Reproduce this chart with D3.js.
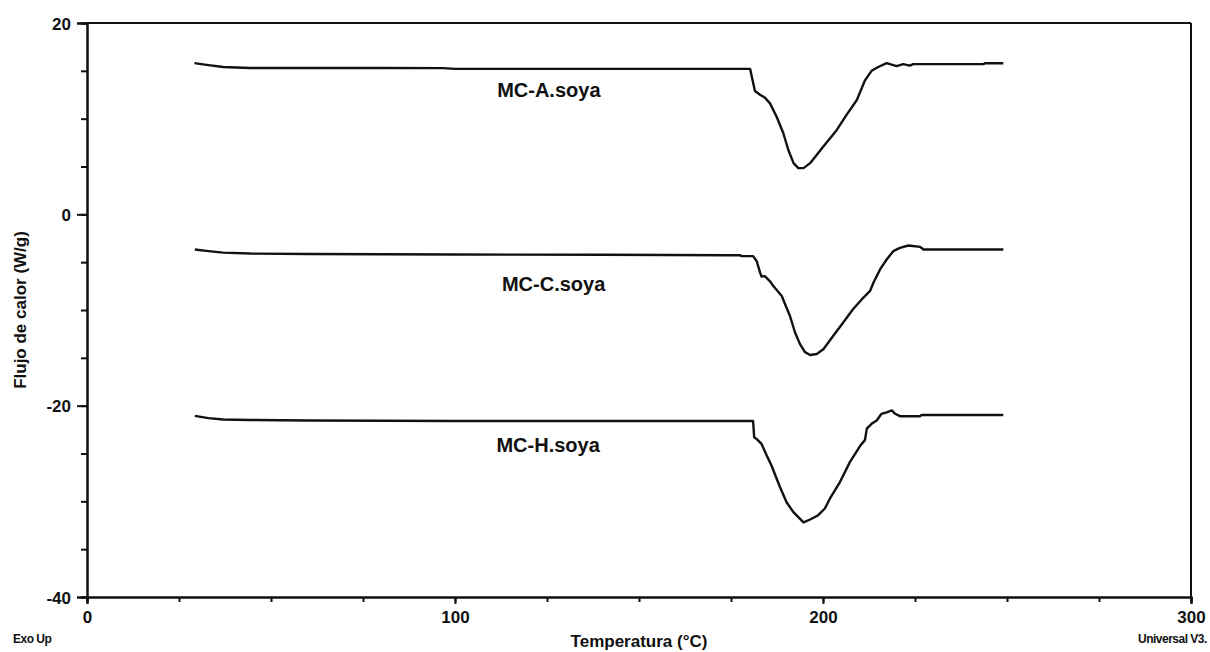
<!DOCTYPE html>
<html>
<head>
<meta charset="utf-8">
<script src="https://cdn.jsdelivr.net/npm/d3@7"></script>
<style>
  html, body { margin: 0; padding: 0; background: #fff; }
  svg { display: block; font-family: "Liberation Sans", Arial, sans-serif; }
</style>
</head>
<body>
<svg id="chart" width="1210" height="652"></svg>
<script>
// DSC thermograms: heat flow (W/g) against temperature (°C)
const tempA = [29.2, 33, 37, 44.3, 60, 80, 96.8, 100, 120, 140, 160, 175, 180.2, 181.5, 182.9, 184.2, 185.6, 187.4, 189.2, 190.6, 192, 193.3, 194.7, 196.5, 200.1, 203.7, 206.4, 209.2, 211.4, 213.2, 215, 217.3, 218.2, 220, 221.8, 223.6, 224.5, 243.6, 244, 249];
const flowA = [15.8, 15.6, 15.4, 15.3, 15.3, 15.3, 15.28, 15.2, 15.2, 15.2, 15.2, 15.2, 15.2, 12.9, 12.5, 12.2, 11.6, 10.2, 8.5, 6.7, 5.35, 4.83, 4.83, 5.35, 7.1, 8.8, 10.4, 11.95, 14.0, 15.0, 15.4, 15.8, 15.7, 15.5, 15.7, 15.55, 15.7, 15.7, 15.8, 15.8];

const tempC = [29.3, 33, 37, 44.3, 60, 100, 140, 174.7, 177.4, 177.9, 181, 182, 182.9, 183.3, 184.2, 185.6, 186.5, 188.8, 189.7, 191, 192.4, 193.75, 195.1, 196.5, 198.3, 200.1, 202.8, 205.5, 208.2, 211, 212.8, 213.7, 215.5, 217.3, 219.1, 220.9, 223.2, 226.4, 227.3, 249];
const flowC = [-3.68, -3.85, -4.0, -4.1, -4.15, -4.2, -4.22, -4.27, -4.27, -4.37, -4.37, -4.9, -6.1, -6.5, -6.46, -7.0, -7.5, -8.54, -9.4, -10.6, -12.35, -13.57, -14.4, -14.7, -14.6, -14.1, -12.7, -11.3, -9.9, -8.7, -8.0, -7.15, -5.76, -4.72, -3.85, -3.5, -3.26, -3.4, -3.68, -3.68];

const tempH = [29.3, 33, 37, 44.3, 60, 100, 140, 174.7, 181, 181.3, 182, 183.3, 184.7, 186, 188.3, 190.1, 191.9, 194.7, 196.5, 198.7, 200.5, 201.9, 204.6, 207.3, 210.1, 211.4, 211.9, 213.2, 214.6, 215.9, 217.3, 218.7, 219.6, 220.9, 226.4, 226.8, 249];
const flowH = [-21.07, -21.3, -21.45, -21.5, -21.55, -21.6, -21.6, -21.6, -21.6, -23.3, -23.5, -24.0, -25.2, -26.25, -28.5, -30.1, -31.1, -32.2, -31.9, -31.45, -30.75, -29.7, -27.98, -25.9, -24.2, -23.6, -22.4, -21.9, -21.55, -20.85, -20.7, -20.5, -20.85, -21.1, -21.1, -20.97, -20.97];

const seriesNames = ["MC-A.soya", "MC-C.soya", "MC-H.soya"];
// label anchor positions in data units (temperature, heat flow)
const labelTemp = [125.5, 126.8, 125.3];
const labelFlow = [12.3, -8.0, -24.8];

const xMajorTicks = [0, 100, 200, 300];
const xMinorTicks = d3.range(0, 301, 25);
const yMajorTicks = [-40, -20, 0, 20];
const yMinorTicks = d3.range(-40, 21, 5);

const xTitle = "Temperatura (°C)";
const yTitle = "Flujo de calor (W/g)";
const footLeft = "Exo Up";
const footRight = "Universal V3.";

const series = [
  { name: seriesNames[0], t: tempA, v: flowA },
  { name: seriesNames[1], t: tempC, v: flowC },
  { name: seriesNames[2], t: tempH, v: flowH }
];

const svg = d3.select("#chart");
const plotLeft = 87, plotRight = 1191, plotTop = 23, plotBottom = 597;

const x = d3.scaleLinear().domain([0, 300]).range([plotLeft, plotRight]);
const y = d3.scaleLinear().domain([-40, 20]).range([plotBottom, plotTop]);

const ink = "#111";
const plainNumber = d => String(d);   // ASCII hyphen for negatives

// frame: top and right edges
svg.append("line").attr("x1", plotLeft).attr("x2", plotRight).attr("y1", plotTop).attr("y2", plotTop)
  .attr("stroke", ink).attr("stroke-width", 2);
svg.append("line").attr("x1", plotRight).attr("x2", plotRight).attr("y1", plotTop).attr("y2", plotBottom)
  .attr("stroke", ink).attr("stroke-width", 2);

// y axis: minor then major ticks
const yMinor = svg.append("g").attr("transform", `translate(${plotLeft},0)`)
  .call(d3.axisLeft(y).tickValues(yMinorTicks).tickSize(6).tickFormat(""));
const yMajor = svg.append("g").attr("transform", `translate(${plotLeft},0)`)
  .call(d3.axisLeft(y).tickValues(yMajorTicks).tickSize(10).tickPadding(6).tickFormat(plainNumber));

// x axis: minor then major ticks
const xMinor = svg.append("g").attr("transform", `translate(0,${plotBottom})`)
  .call(d3.axisBottom(x).tickValues(xMinorTicks).tickSize(5).tickFormat(""));
const xMajor = svg.append("g").attr("transform", `translate(0,${plotBottom})`)
  .call(d3.axisBottom(x).tickValues(xMajorTicks).tickSize(7).tickPadding(5).tickFormat(plainNumber));

[yMinor, yMajor, xMinor, xMajor].forEach(g => {
  g.select(".domain").attr("stroke", ink).attr("stroke-width", 2);
  g.selectAll(".tick line").attr("stroke", ink).attr("stroke-width", 2);
  g.selectAll(".tick text")
    .attr("fill", ink)
    .style("font-family", "'Liberation Sans', Arial, sans-serif")
    .style("font-size", "17px")
    .style("font-weight", "bold");
});
yMajor.selectAll(".tick text").attr("dy", "0.36em");
xMajor.selectAll(".tick text").attr("dy", "0.85em");

// thermogram curves
const line = d3.line()
  .x(d => x(d[0]))
  .y(d => y(d[1]))
  .curve(d3.curveLinear);

svg.append("g").selectAll("path")
  .data(series)
  .join("path")
  .attr("d", s => line(s.t.map((t, i) => [t, s.v[i]])))
  .attr("fill", "none")
  .attr("stroke", ink)
  .attr("stroke-width", 2.4)
  .attr("stroke-linejoin", "round");

// curve labels
svg.append("g").selectAll("text")
  .data(series)
  .join("text")
  .attr("x", (s, i) => x(labelTemp[i]))
  .attr("y", (s, i) => y(labelFlow[i]))
  .attr("text-anchor", "middle")
  .attr("fill", ink)
  .style("font-size", "20px")
  .style("font-weight", "bold")
  .text(s => s.name);

// axis titles
svg.append("text")
  .attr("x", 639).attr("y", 647)
  .attr("text-anchor", "middle")
  .attr("fill", ink)
  .style("font-size", "17px").style("font-weight", "bold")
  .text(xTitle);

svg.append("text")
  .attr("transform", "translate(26,310) rotate(-90)")
  .attr("text-anchor", "middle")
  .attr("fill", ink)
  .style("font-size", "17px").style("font-weight", "bold")
  .text(yTitle);

// instrument footnotes (tightly set, as the instrument software prints them)
svg.append("text")
  .attr("x", 13).attr("y", 643)
  .attr("fill", ink)
  .style("font-size", "12px").style("font-weight", "bold")
  .style("letter-spacing", "-0.5px")
  .text(footLeft);

svg.append("text")
  .attr("x", 1138).attr("y", 643)
  .attr("fill", ink)
  .style("font-size", "12px").style("font-weight", "bold")
  .style("letter-spacing", "-0.5px")
  .text(footRight);
</script>
</body>
</html>
